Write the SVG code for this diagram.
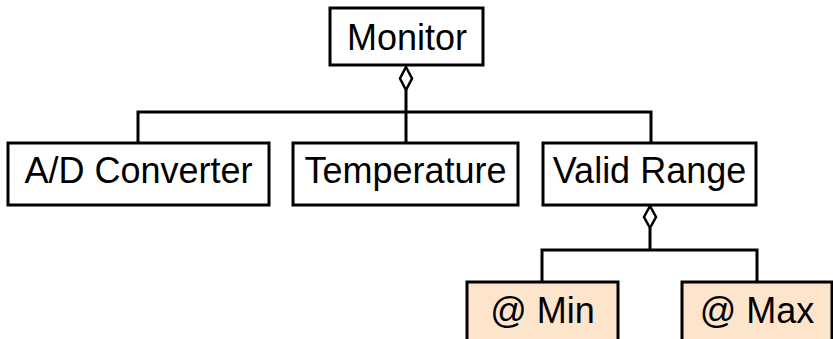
<svg xmlns="http://www.w3.org/2000/svg" width="833" height="339" viewBox="0 0 833 339">
<style>
.box{fill:#fff;stroke:#000;stroke-width:3}
.attr{fill:#fde5cc;stroke:#000;stroke-width:3}
.t{font-family:"Liberation Sans",Arial,sans-serif;font-size:36px;fill:#000;text-anchor:middle}
.c{fill:none;stroke:#000;stroke-width:3}
.d{fill:#fff;stroke:#000;stroke-width:2.5}
</style>
<g id="connectors">
<path class="c" d="M406 90 V143 M138 143 V112 H651 V143"/>
<path class="d" d="M406 67 L412 78.5 L406 90 L400 78.5 Z"/>
<path class="c" d="M650 228 V250 M542 282 V250 H757 V282"/>
<path class="d" d="M650 206 L656 217 L650 228 L644 217 Z"/>
</g>
<g id="monitor"><rect class="box" x="330" y="8" width="153" height="57"/><text class="t" x="407" y="50">Monitor</text></g>
<g id="ad"><rect class="box" x="8" y="143" width="261" height="62"/><text class="t" x="138.5" y="183">A/D Converter</text></g>
<g id="temperature"><rect class="box" x="293" y="143" width="225" height="62"/><text class="t" x="405.5" y="183">Temperature</text></g>
<g id="validrange"><rect class="box" x="543" y="143" width="213" height="62"/><text class="t" x="649.5" y="183">Valid Range</text></g>
<g id="min"><rect class="attr" x="467" y="282" width="151" height="60"/><text class="t" x="542.5" y="323">@ Min</text></g>
<g id="max"><rect class="attr" x="682" y="282" width="150" height="60"/><text class="t" x="757" y="323">@ Max</text></g>
</svg>
